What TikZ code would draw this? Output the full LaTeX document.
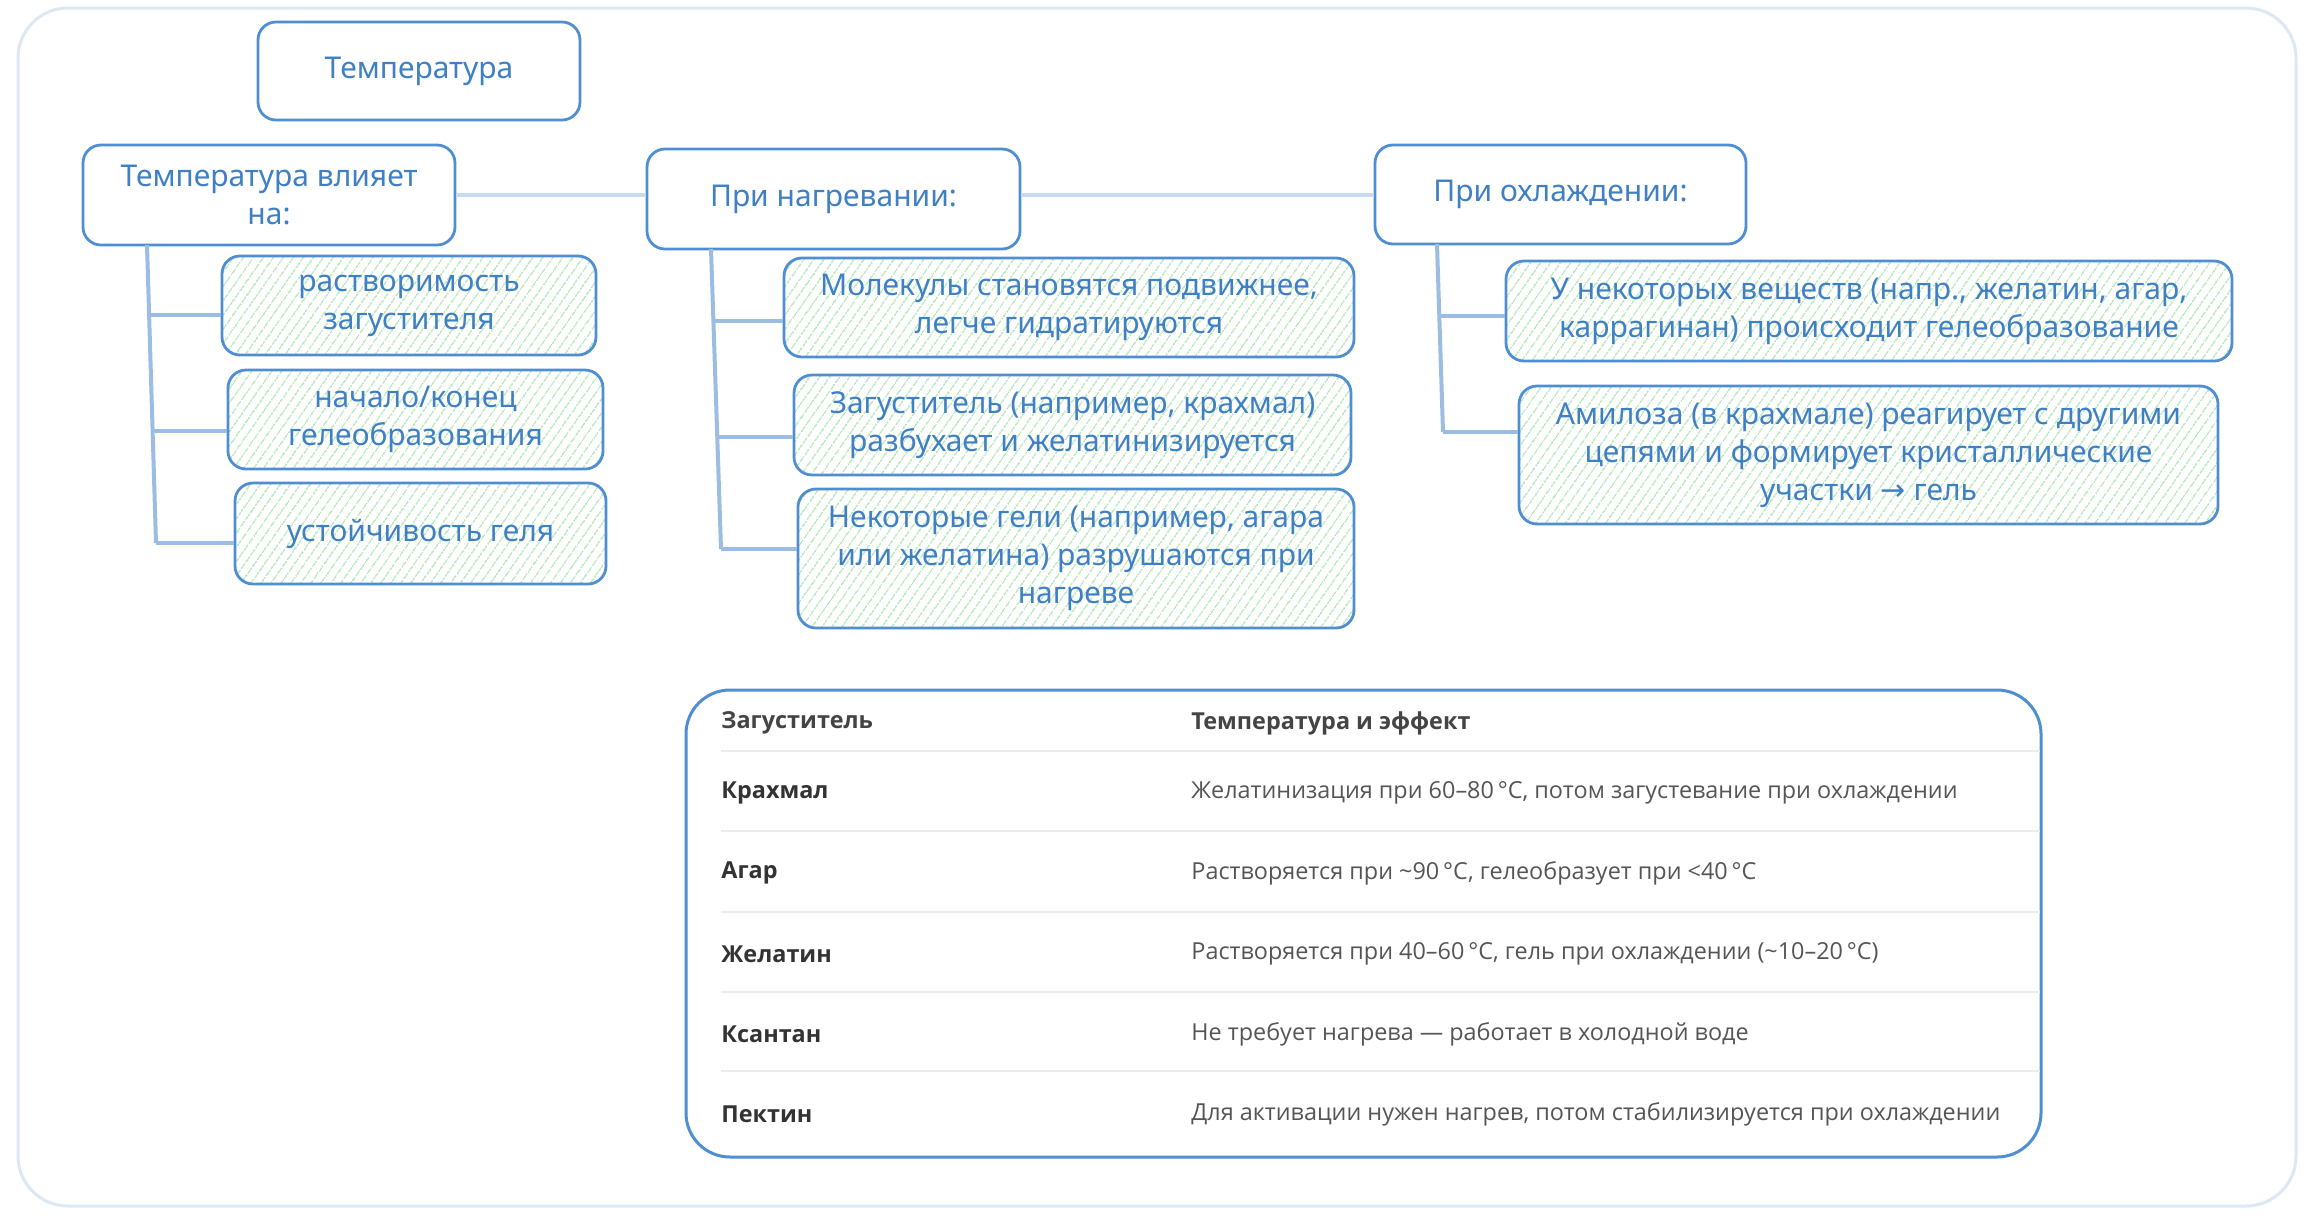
\documentclass[tikz,border=0pt]{standalone}
\usepackage{fontspec}
\setmainfont{Noto Sans}
\newfontfamily\tablefont{Open Sans}
\newfontfamily\symfont{DejaVu Sans}
\usetikzlibrary{patterns.meta}
\definecolor{boxblue}{HTML}{4F8ED0}
\definecolor{textblue}{HTML}{3F7FC4}
\definecolor{hatchgreen}{HTML}{ABE5B1}
\definecolor{linklight}{HTML}{C6DAF0}
\definecolor{treeblue}{HTML}{9BBCE3}
\definecolor{framecol}{HTML}{DCE8F4}
\definecolor{sepgrey}{HTML}{EBEBEB}
\definecolor{headgrey}{HTML}{444444}
\definecolor{colone}{HTML}{333333}
\definecolor{coltwo}{HTML}{555555}
\tikzset{
  hbox/.style={draw=boxblue, line width=1.4pt, rounded corners=9pt, fill=white,
    text=textblue, align=center, inner sep=0pt,
    font=\fontsize{15}{19}\selectfont},
  gbox/.style={hbox, fill=none, pattern={Lines[angle=55,distance=4pt,line width=0.7pt]},
    pattern color=hatchgreen},
  linkline/.style={draw=linklight, line width=2pt},
  treeline/.style={draw=treeblue, line width=2pt},
  thead/.style={anchor=west, inner sep=0pt, text=headgrey, font=\tablefont\fontsize{11.7}{14}\selectfont\bfseries},
  tcolone/.style={anchor=west, inner sep=0pt, text=colone, font=\tablefont\fontsize{11.7}{14}\selectfont\bfseries},
  tcoltwo/.style={anchor=west, inner sep=0pt, text=coltwo, font=\tablefont\fontsize{11.7}{14}\selectfont},
  rowsep/.style={draw=sepgrey, line width=1pt}
}
\begin{document}
\begin{tikzpicture}[x=0.5pt,y=-0.5pt]
\useasboundingbox (0,0) rectangle (2312,1217);
% outer frame
\draw[draw=framecol, line width=1.5pt, rounded corners=25pt] (18,8) rectangle (2296,1206);

% main nodes
\node[hbox, minimum width=161pt, minimum height=49pt] (t0) at (419,71) {Температура};
\node[hbox, minimum width=186pt, minimum height=50pt] (a) at (269,195) {Температура влияет\\на:};
\node[hbox, minimum width=186.5pt, minimum height=50pt] (b) at (833.5,199) {При нагревании:};
\node[hbox, minimum width=185.5pt, minimum height=49.5pt] (c) at (1560.5,194.5) {При охлаждении:};

% links between headers
\draw[linkline] (a.east) -- (b.west |- a.east);
\draw[linkline] (b.east |- c.west) -- (c.west);

% left column
\node[gbox, minimum width=187pt, minimum height=49.5pt] (a1) at (409,305.5) {растворимость\\загустителя};
\node[gbox, minimum width=187.5pt, minimum height=49.5pt] (a2) at (415.5,419.5) {начало/конец\\гелеобразования};
\node[gbox, minimum width=185.5pt, minimum height=50.5pt] (a3) at (420.5,533.5) {устойчивость геля};

% middle column
\node[gbox, minimum width=285pt, minimum height=49.5pt] (b1) at (1069,307.5) {Молекулы становятся подвижнее,\\легче гидратируются};
\node[gbox, minimum width=278.5pt, minimum height=50pt] (b2) at (1072.5,425) {Загуститель (например, крахмал)\\разбухает и желатинизируется};
\node[gbox, minimum width=278pt, minimum height=69.5pt] (b3) at (1076,558.5) {Некоторые гели (например, агара\\или желатина) разрушаются при\\нагреве};

% right column
\node[gbox, minimum width=363pt, minimum height=50pt] (c1) at (1869,311) {У некоторых веществ (напр., желатин, агар,\\каррагинан) происходит гелеобразование};
\node[gbox, minimum width=349.5pt, minimum height=69pt] (c2) at (1868.5,455) {Амилоза (в крахмале) реагирует с другими\\цепями и формирует кристаллические\\участки {\symfont →} гель};

% tree lines
\coordinate (atop) at (147,245);
\coordinate (abot) at (156,543);
\draw[treeline] (atop) -- (abot);
\draw[treeline] (148,315) -- (a1.west |- 148,315);
\draw[treeline] (152,431) -- (a2.west |- 152,431);
\draw[treeline] (abot) -- (a3.west |- abot);

\coordinate (btop) at (711,249);
\coordinate (bbot) at (721,549);
\draw[treeline] (btop) -- (bbot);
\draw[treeline] (713,321) -- (b1.west |- 713,321);
\draw[treeline] (717,437) -- (b2.west |- 717,437);
\draw[treeline] (bbot) -- (b3.west |- bbot);

\coordinate (ctop) at (1437,244);
\coordinate (cbot) at (1443,432);
\draw[treeline] (ctop) -- (cbot);
\draw[treeline] (1440,316) -- (c1.west |- 1440,316);
\draw[treeline] (cbot) -- (c2.west |- cbot);

% table
\draw[draw=boxblue, line width=1.5pt, rounded corners=22pt] (686,690) rectangle (2041,1157);
\node[thead] (h1) at (721,723) {Загуститель};
\node[thead] (h2) at (1191,723) {Температура и эффект};
\draw[draw=sepgrey, line width=1.2pt] (721,751) -- (2040,751);

\node[tcolone] (r1a) at (721,793) {Крахмал};
\node[tcoltwo] (r1b) at (1191,793) {Желатинизация при 60–80\,°C, потом загустевание при охлаждении};
\draw[rowsep] (721,831) -- (2040,831);
\node[tcolone] (r2a) at (721,873) {Агар};
\node[tcoltwo] (r2b) at (1191,873) {Растворяется при \textasciitilde 90\,°C, гелеобразует при <40\,°C};
\draw[rowsep] (721,912) -- (2040,912);
\node[tcolone] (r3a) at (721,954) {Желатин};
\node[tcoltwo] (r3b) at (1191,954) {Растворяется при 40–60\,°C, гель при охлаждении (\textasciitilde 10–20\,°C)};
\draw[rowsep] (721,992) -- (2040,992);
\node[tcolone] (r4a) at (721,1034) {Ксантан};
\node[tcoltwo] (r4b) at (1191,1034) {Не требует нагрева — работает в холодной воде};
\draw[rowsep] (721,1071) -- (2040,1071);
\node[tcolone] (r5a) at (721,1114) {Пектин};
\node[tcoltwo] (r5b) at (1191,1114) {Для активации нужен нагрев, потом стабилизируется при охлаждении};
\end{tikzpicture}
\end{document}
